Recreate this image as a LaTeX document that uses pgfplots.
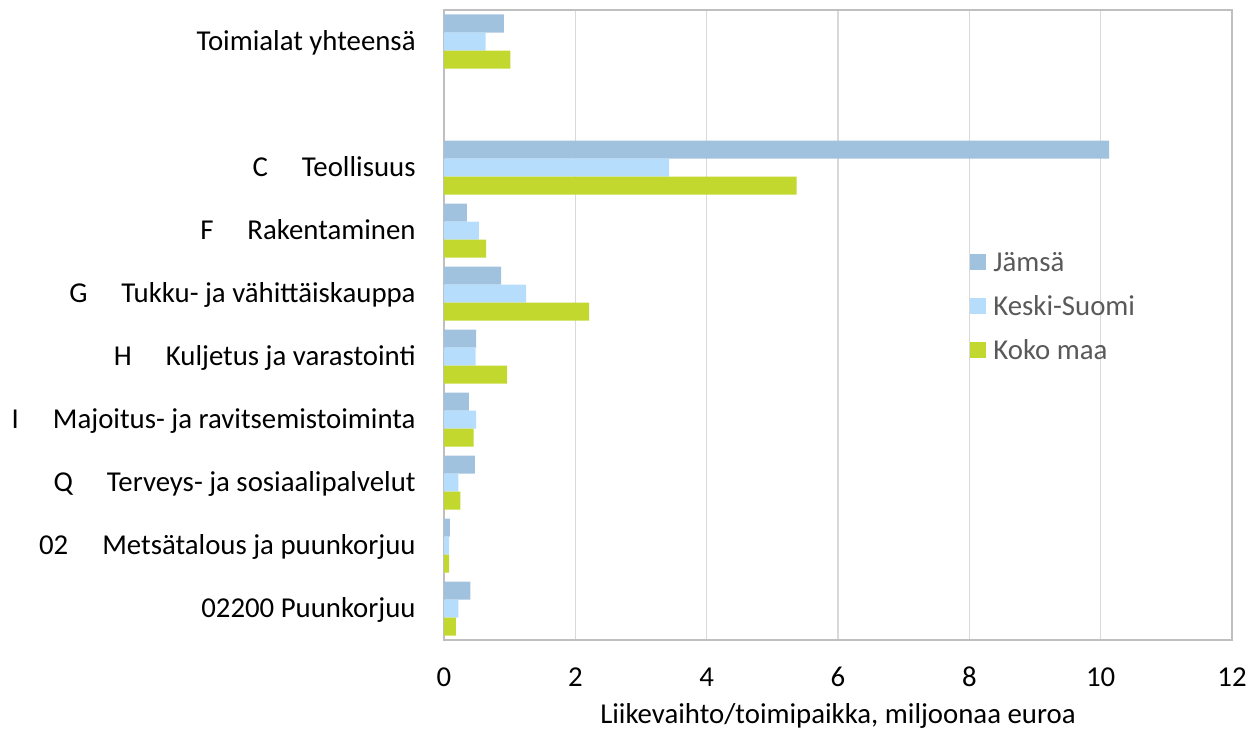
\documentclass[border=0pt]{standalone}
\usepackage{pgfplots}
\pgfplotsset{compat=1.18}
\usepackage{fontspec}
\setmainfont{Carlito}
\definecolor{jam}{HTML}{A1C2DE}
\definecolor{ks}{HTML}{B6DDFC}
\definecolor{km}{HTML}{C2D82F}
\definecolor{gridc}{HTML}{D9D9D9}
\definecolor{axc}{HTML}{BFBFBF}
\definecolor{legtxt}{HTML}{595959}
\newcommand{\gap}{\hspace{17bp}}
\newcommand{\fs}{\fontsize{14.4bp}{17.5bp}\selectfont}
\begin{document}
\fs
\begin{tikzpicture}[x=1bp,y=1bp]
\path[use as bounding box] (-222,-45) rectangle (403,320);
\begin{axis}[
  at={(0,0)}, anchor=south west,
  scale only axis, width=394bp, height=315bp,
  xbar, bar width=9bp,
  xmin=0, xmax=12, ymin=-0.5, ymax=9.5,
  xtick={0,2,...,12},
  ytick={0,1,2,3,4,5,6,7,9},
  yticklabels={02200 Puunkorjuu,
    02\gap Metsätalous ja puunkorjuu,
    Q\gap Terveys- ja sosiaalipalvelut,
    I\gap Majoitus- ja ravitsemistoiminta,
    H\gap Kuljetus ja varastointi,
    G\gap Tukku- ja vähittäiskauppa,
    F\gap Rakentaminen,
    C\gap Teollisuus,
    Toimialat yhteensä},
  /pgf/number format/assume math mode=true,
  major tick length=0pt,
  xmajorgrids, ymajorgrids=false,
  major grid style={gridc, line width=0.75bp},
  axis line style={axc, line width=0.9bp},
  yticklabel style={anchor=base east, inner sep=0pt, xshift=-14bp, yshift=-4.6bp, font=\fs, text=black},
  xticklabel style={anchor=center, inner sep=0pt, yshift=-18.5bp, font=\fs, text=black},
  xlabel={Liikevaihto/toimipaikka, miljoonaa euroa},
  xlabel style={at={(axis description cs:0.5,0)}, anchor=base, inner sep=0pt, yshift=-41.5bp, font=\fs, text=black},
  legend style={draw=none, fill=none, at={(0.6675,0.621)}, anchor=north west, inner sep=0pt,
    column sep=3.5bp, row sep=0pt,
    nodes={inner sep=0pt, text height=11bp, text depth=11bp, font=\fs, text=legtxt}},
  legend cell align=left,
  legend image code/.code={\fill[#1] (0bp,0.6bp) rectangle (8bp,8.6bp);},
]
\addplot[fill=jam, draw=none, bar shift=9bp] coordinates {
  (0.40,0) (0.09,1) (0.47,2) (0.38,3) (0.49,4) (0.87,5) (0.35,6) (10.13,7) (0.91,9)};
\addplot[fill=ks, draw=none, bar shift=0bp] coordinates {
  (0.22,0) (0.08,1) (0.22,2) (0.49,3) (0.48,4) (1.25,5) (0.53,6) (3.43,7) (0.635,9)};
\addplot[fill=km, draw=none, bar shift=-9bp] coordinates {
  (0.18,0) (0.08,1) (0.25,2) (0.45,3) (0.96,4) (2.21,5) (0.64,6) (5.37,7) (1.01,9)};
\legend{Jämsä, Keski-Suomi, Koko maa}
\end{axis}
\end{tikzpicture}
\end{document}
